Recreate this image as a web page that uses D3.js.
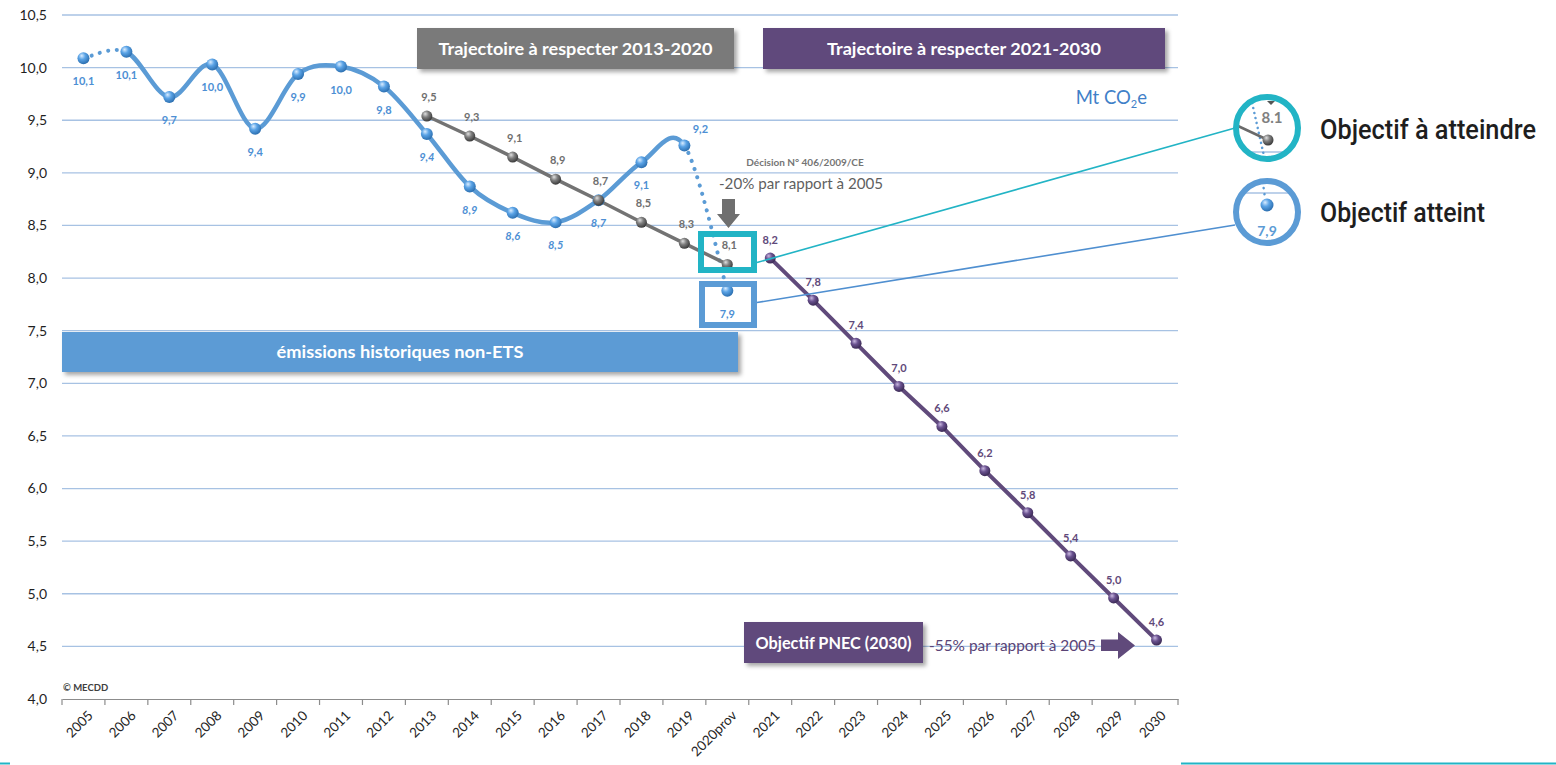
<!DOCTYPE html>
<html><head><meta charset="utf-8">
<script src="https://cdn.jsdelivr.net/npm/d3@7"></script>
<style>body{margin:0;background:#fff} svg{display:block;font-family:Lato,"Open Sans",sans-serif}</style>
</head><body>
<svg id="chart" width="1556" height="765"></svg>
<script>
// ---------- DATA ----------
const categories = ["2005","2006","2007","2008","2009","2010","2011","2012","2013","2014","2015","2016","2017","2018","2019","2020prov","2021","2022","2023","2024","2025","2026","2027","2028","2029","2030"];
const yTicks = [4.0,4.5,5.0,5.5,6.0,6.5,7.0,7.5,8.0,8.5,9.0,9.5,10.0,10.5];

const historicYears = ["2005","2006","2007","2008","2009","2010","2011","2012","2013","2014","2015","2016","2017","2018","2019","2020prov"];
const historicValues = [10.09,10.15,9.72,10.03,9.42,9.94,10.01,9.82,9.37,8.87,8.62,8.53,8.74,9.10,9.26,7.88];
const historicLabels = ["10,1","10,1","9,7","10,0","9,4","9,9","10,0","9,8","9,4","8,9","8,6","8,5","8,7","9,1","9,2","7,9"];

const trajYears2020 = ["2013","2014","2015","2016","2017","2018","2019","2020prov"];
const trajValues2020 = [9.54,9.35,9.15,8.94,8.74,8.53,8.33,8.13];
const trajLabels2020 = ["9,5","9,3","9,1","8,9","8,7","8,5","8,3","8,1"];

const trajYears2030 = ["2021","2022","2023","2024","2025","2026","2027","2028","2029","2030"];
const trajValues2030 = [8.19,7.79,7.38,6.97,6.59,6.17,5.77,5.36,4.96,4.56];
const trajLabels2030 = ["8,2","7,8","7,4","7,0","6,6","6,2","5,8","5,4","5,0","4,6"];

const italicLabelYears = ["2013","2014","2015","2016","2017"];

// ---------- SETUP ----------
const svg = d3.select("#chart");
const x = d3.scaleBand().domain(categories).range([62,1178]).padding(0);
const y = d3.scaleLinear().domain([4,10.5]).range([699,15]);
const cx = c => x(c) + x.bandwidth()/2;
const fmt = v => d3.format(".1f")(v).replace(".", ",");

const BLUE = "#5b9bd5", GREY = "#7f7f7f", PURPLE = "#604a7b", TEAL = "#22b4c5";

const defs = svg.append("defs");
const sh = defs.append("filter").attr("id","shadow").attr("x","-10%").attr("y","-20%").attr("width","130%").attr("height","160%");
sh.append("feDropShadow").attr("dx",3).attr("dy",3).attr("stdDeviation",2).attr("flood-color","#000").attr("flood-opacity",0.35);

function sphere(id, light, mid, dark){
  const g = defs.append("radialGradient").attr("id",id).attr("cx","40%").attr("cy","35%").attr("r","65%").attr("fx","35%").attr("fy","30%");
  g.append("stop").attr("offset","0%").attr("stop-color",light);
  g.append("stop").attr("offset","45%").attr("stop-color",mid);
  g.append("stop").attr("offset","100%").attr("stop-color",dark);
}
sphere("sBlue","#d9ecff","#5aa3e6","#2c6fb0");
sphere("sGrey","#e0e0e0","#808080","#3a3a3a");
sphere("sPurple","#c9b8e0","#6a5290","#3b2a55");

// ---------- GRID ----------
svg.append("g").selectAll("line").data(yTicks.filter(v => v > 4)).join("line")
  .attr("x1",62).attr("x2",1178).attr("y1",d=>y(d)).attr("y2",d=>y(d))
  .attr("stroke","#a7c2e3").attr("stroke-width",1.3);

// Y labels
svg.append("g").selectAll("text").data(yTicks).join("text")
  .attr("x",47).attr("y",d=>y(d)).attr("dy","0.35em").attr("text-anchor","end")
  .attr("font-size",14).attr("fill","#1f1f1f").text(fmt);

// X axis
const gx = svg.append("g").attr("transform","translate(0,699)")
  .call(d3.axisBottom(x).tickSize(0).tickPadding(0));
gx.select(".domain").attr("stroke","#8c8c8c").attr("stroke-width",1.2);
gx.selectAll(".tick text").attr("y",0).attr("dy","0.35em").attr("x",0)
  .attr("text-anchor","end").attr("font-family","Lato").attr("font-size",13.5).attr("fill","#262626")
  .attr("transform","translate(7,14) rotate(-45)");
svg.append("g").selectAll("line").data(categories.map(c=>x(c)).concat([x.range()[1]])).join("line")
  .attr("x1",d=>d).attr("x2",d=>d).attr("y1",699).attr("y2",705).attr("stroke","#8c8c8c").attr("stroke-width",1.2);

// ---------- HISTORIC CURVE (Catmull-Rom through all points) ----------
const hp = historicYears.map((c,i)=>[cx(c), y(historicValues[i])]);
function segPath(i){
  const p0 = hp[Math.max(i-1,0)], p1 = hp[i], p2 = hp[i+1], p3 = hp[Math.min(i+2,hp.length-1)];
  const c1 = [p1[0]+(p2[0]-p0[0])/6, p1[1]+(p2[1]-p0[1])/6];
  const c2 = [p2[0]-(p3[0]-p1[0])/6, p2[1]-(p3[1]-p1[1])/6];
  return {c1,c2,p1,p2};
}
const solid = d3.path();
for(let i=1;i<hp.length-2;i++){
  const s = segPath(i);
  if(i===1) solid.moveTo(s.p1[0],s.p1[1]);
  solid.bezierCurveTo(s.c1[0],s.c1[1],s.c2[0],s.c2[1],s.p2[0],s.p2[1]);
}
svg.append("path").attr("d",solid.toString()).attr("fill","none").attr("stroke",BLUE).attr("stroke-width",4.5).attr("stroke-linecap","round");
[0, hp.length-2].forEach(i=>{
  const s = segPath(i), p = d3.path();
  p.moveTo(s.p1[0],s.p1[1]); p.bezierCurveTo(s.c1[0],s.c1[1],s.c2[0],s.c2[1],s.p2[0],s.p2[1]);
  svg.append("path").attr("d",p.toString()).attr("fill","none").attr("stroke",BLUE)
    .attr("stroke-width",4).attr("stroke-linecap","round").attr("stroke-dasharray","0.1 8.5");
});

// ---------- TRAJECTORIES ----------
const line = d3.line().x(d=>cx(d[0])).y(d=>y(d[1]));
const t20 = trajYears2020.map((c,i)=>[c,trajValues2020[i]]);
const t30 = trajYears2030.map((c,i)=>[c,trajValues2030[i]]);
svg.append("path").attr("d",line(t20)).attr("fill","none").attr("stroke","#737373").attr("stroke-width",3.5);
svg.append("path").attr("d",line(t30)).attr("fill","none").attr("stroke",PURPLE).attr("stroke-width",4);

// points
svg.append("g").selectAll("circle").data(historicYears).join("circle")
  .attr("cx",c=>cx(c)).attr("cy",(c,i)=>y(historicValues[i])).attr("r",6).attr("fill","url(#sBlue)");
svg.append("g").selectAll("circle").data(t20).join("circle")
  .attr("cx",d=>cx(d[0])).attr("cy",d=>y(d[1])).attr("r",5.5).attr("fill","url(#sGrey)");
svg.append("g").selectAll("circle").data(t30).join("circle")
  .attr("cx",d=>cx(d[0])).attr("cy",d=>y(d[1])).attr("r",5.5).attr("fill","url(#sPurple)");

// labels
svg.append("g").selectAll("text").data(historicYears).join("text")
  .attr("x",(c,i)=> c==="2019" ? cx(c)+16 : cx(c))
  .attr("y",(c,i)=> c==="2019" ? y(historicValues[i])-12 : y(historicValues[i])+27)
  .attr("text-anchor","middle").attr("font-size",11).attr("font-weight","bold")
  .attr("font-style",c=>italicLabelYears.includes(c)?"italic":"normal")
  .attr("fill","#4d8fd4").text((c,i)=>historicLabels[i]);
svg.append("g").selectAll("text").data(t20).join("text")
  .attr("x",d=>cx(d[0])+2).attr("y",d=>y(d[1])-15)
  .attr("text-anchor","middle").attr("font-size",11).attr("font-weight","bold")
  .attr("fill","#6f6f6f").text((d,i)=>trajLabels2020[i]);
svg.append("g").selectAll("text").data(t30).join("text")
  .attr("x",d=>cx(d[0])).attr("y",d=>y(d[1])-14)
  .attr("text-anchor","middle").attr("font-size",11).attr("font-weight","bold")
  .attr("fill","#5f497a").text((d,i)=>trajLabels2030[i]);

// ---------- ANNOTATIONS ----------
function box(x0,y0,w,h,fill,txt,fs,tl){
  svg.append("rect").attr("x",x0).attr("y",y0).attr("width",w).attr("height",h).attr("fill",fill).attr("filter","url(#shadow)");
  const t = svg.append("text").attr("x",x0+w/2).attr("y",y0+h/2).attr("dy","0.36em").attr("text-anchor","middle")
    .attr("font-size",fs).attr("font-weight","bold").attr("fill","#fff").text(txt);
  if(tl) t.attr("textLength",tl).attr("lengthAdjust","spacingAndGlyphs");
}
box(417,28,317,41,"#7a7a7a","Trajectoire à respecter 2013-2020",17,274);
box(763,28,402,41,PURPLE,"Trajectoire à respecter 2021-2030",17,274);
box(62,332,676,40,BLUE,"émissions historiques non-ETS",17,247);
box(744,622,179,41,PURPLE,"Objectif PNEC (2030)",17,156);

// Mt CO2e
const mt = svg.append("text").attr("x",1147).attr("y",104).attr("text-anchor","end").attr("font-size",18.5).attr("fill","#3f80c8");
mt.append("tspan").text("Mt CO");
mt.append("tspan").attr("font-size",11).attr("dy",4).text("2");
mt.append("tspan").attr("dy",-4).text("e");

// Décision
svg.append("text").attr("x",805).attr("y",166).attr("text-anchor","middle").attr("font-size",10).attr("font-weight","bold").attr("fill","#757575").text("Décision N° 406/2009/CE");
svg.append("text").attr("x",801).attr("y",189).attr("text-anchor","middle").attr("font-size",15).attr("fill","#5f5f5f")
  .attr("textLength",164).attr("lengthAdjust","spacingAndGlyphs").text("-20% par rapport à 2005");
svg.append("path").attr("d","M722,199 L735,199 L735,214 L740,214 L728.5,228 L717,214 L722,214 Z").attr("fill","#6f6f6f");

// -55%
svg.append("text").attr("x",929).attr("y",651).attr("font-size",14.5).attr("fill","#5a4476")
  .attr("textLength",167).attr("lengthAdjust","spacingAndGlyphs").text("-55% par rapport à 2005");
svg.append("path").attr("d","M1101,639.5 L1118,639.5 L1118,632 L1135,645.5 L1118,659 L1118,651 L1101,651 Z").attr("fill",PURPLE);

// © MECDD
svg.append("text").attr("x",63).attr("y",691).attr("font-size",9.5).attr("font-weight","bold").attr("fill","#404040").text("© MECDD");

// highlight boxes
svg.append("rect").attr("x",701).attr("y",234).attr("width",53).attr("height",36).attr("fill","none").attr("stroke",TEAL).attr("stroke-width",6);
svg.append("rect").attr("x",702).attr("y",284).attr("width",52).attr("height",41).attr("fill","none").attr("stroke",BLUE).attr("stroke-width",6);
// connectors
svg.append("line").attr("x1",757).attr("y1",262.5).attr("x2",1235).attr("y2",128).attr("stroke",TEAL).attr("stroke-width",1.6);
svg.append("line").attr("x1",757).attr("y1",302.5).attr("x2",1235).attr("y2",225).attr("stroke","#4f8fd0").attr("stroke-width",1.6);

// magnifier circles
const c1 = {x:1267,y:128}, c2 = {x:1267,y:212}, R = 31;
defs.append("clipPath").attr("id","clip1").append("circle").attr("cx",c1.x).attr("cy",c1.y).attr("r",R);
defs.append("clipPath").attr("id","clip2").append("circle").attr("cx",c2.x).attr("cy",c2.y).attr("r",R);
const g1 = svg.append("g").attr("clip-path","url(#clip1)");
g1.append("circle").attr("cx",c1.x).attr("cy",c1.y).attr("r",R).attr("fill","#fff");
g1.append("line").attr("x1",1230).attr("x2",1300).attr("y1",152).attr("y2",152).attr("stroke","#a7c2e3").attr("stroke-width",1.5);
g1.append("line").attr("x1",1251).attr("y1",98).attr("x2",1266).attr("y2",165).attr("stroke",BLUE).attr("stroke-width",2.5).attr("stroke-linecap","round").attr("stroke-dasharray","0.1 5");
g1.append("line").attr("x1",1238).attr("y1",126).attr("x2",1268).attr("y2",140).attr("stroke","#6a6a6a").attr("stroke-width",2.5);
g1.append("circle").attr("cx",1268).attr("cy",140).attr("r",5.5).attr("fill","url(#sGrey)");
g1.append("text").attr("x",1272).attr("y",123).attr("text-anchor","middle").attr("font-size",15).attr("font-weight","bold").attr("fill","#808080").text("8.1");
g1.append("path").attr("d","M1267,101 L1275,101 L1271,105 Z").attr("fill","#555");
svg.append("circle").attr("cx",c1.x).attr("cy",c1.y).attr("r",R).attr("fill","none").attr("stroke",TEAL).attr("stroke-width",6);

const g2 = svg.append("g").attr("clip-path","url(#clip2)");
g2.append("circle").attr("cx",c2.x).attr("cy",c2.y).attr("r",R).attr("fill","#fff");
g2.append("line").attr("x1",1230).attr("x2",1300).attr("y1",193).attr("y2",193).attr("stroke","#a7c2e3").attr("stroke-width",1.5);
g2.append("line").attr("x1",1262).attr("y1",176).attr("x2",1265).attr("y2",198).attr("stroke",BLUE).attr("stroke-width",2.5).attr("stroke-linecap","round").attr("stroke-dasharray","0.1 6");
g2.append("circle").attr("cx",1267).attr("cy",205).attr("r",6.5).attr("fill","url(#sBlue)");
g2.append("text").attr("x",1267).attr("y",236).attr("text-anchor","middle").attr("font-size",14).attr("font-weight","bold").attr("fill","#5b9bd5").text("7,9");
svg.append("circle").attr("cx",c2.x).attr("cy",c2.y).attr("r",R).attr("fill","none").attr("stroke",BLUE).attr("stroke-width",6);

// right legend text
svg.append("text").attr("x",1320).attr("y",139).attr("font-family","Roboto").attr("font-size",27).attr("font-weight",500).attr("fill","#1e1e1e")
  .attr("textLength",216).attr("lengthAdjust","spacingAndGlyphs").text("Objectif à atteindre");
svg.append("text").attr("x",1320).attr("y",222).attr("font-family","Roboto").attr("font-size",27).attr("font-weight",500).attr("fill","#1e1e1e")
  .attr("textLength",165).attr("lengthAdjust","spacingAndGlyphs").text("Objectif atteint");

// bottom accent lines
svg.append("line").attr("x1",1181).attr("x2",1556).attr("y1",763.5).attr("y2",763.5).attr("stroke",TEAL).attr("stroke-width",2);
svg.append("line").attr("x1",0).attr("x2",10).attr("y1",763.5).attr("y2",763.5).attr("stroke",TEAL).attr("stroke-width",2);
</script>
</body></html>
